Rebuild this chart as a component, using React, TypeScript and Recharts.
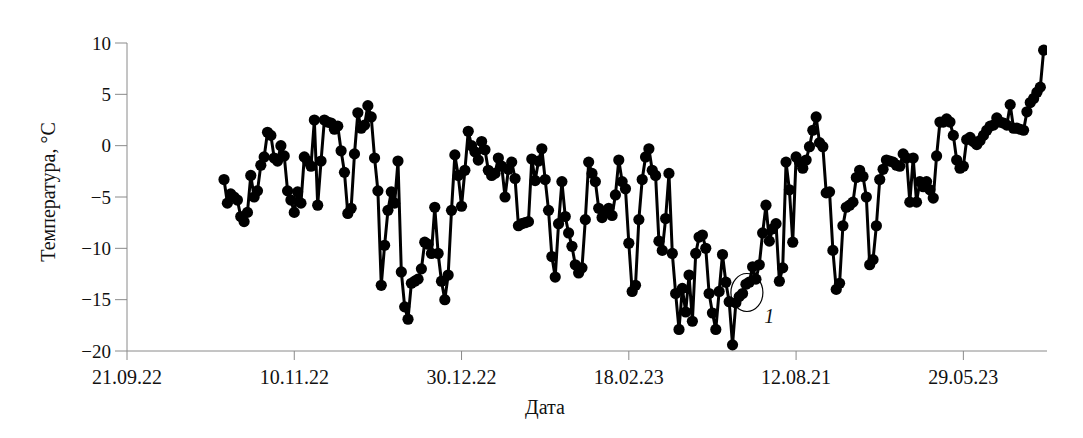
import React from "react";
import { LineChart, Line, XAxis, YAxis, ReferenceDot } from "recharts";

// First day of the series, counted in days from 21.09.22 (the first x tick)
const FIRST_DAY = 29;

// Daily temperatures, °C
const temperatures: number[] = [
  -3.3, -5.6, -4.7, -5.0, -5.3, -6.9, -7.4, -6.5, -2.9, -5.0,
  -4.4, -1.9, -1.1, 1.3, 1.0, -1.2, -1.5, 0.0, -1.0, -4.4,
  -5.3, -6.5, -4.5, -5.6, -1.1, -1.5, -2.0, 2.5, -5.8, -1.5,
  2.5, 2.3, 2.2, 1.6, 1.9, -0.5, -2.6, -6.6, -6.1, -0.8,
  3.2, 1.7, 2.0, 3.9, 2.8, -1.2, -4.4, -13.6, -9.7, -6.3,
  -4.5, -5.6, -1.5, -12.3, -15.7, -16.9, -13.4, -13.2, -13.0, -12.0,
  -9.4, -9.6, -10.5, -6.0, -10.5, -13.2, -15.0, -12.6, -6.3, -0.9,
  -2.9, -5.9, -2.4, 1.4, 0.0, -0.6, -1.4, 0.4, -0.4, -2.4,
  -2.9, -2.7, -1.2, -2.0, -5.0, -2.3, -1.6, -3.2, -7.8, -7.6,
  -7.5, -7.4, -1.3, -3.4, -1.5, -0.3, -3.3, -6.3, -10.8, -12.8,
  -7.6, -3.5, -6.9, -8.5, -9.8, -11.6, -12.4, -11.9, -7.2, -1.6,
  -2.7, -3.5, -6.1, -7.0, -6.5, -6.1, -6.8, -4.8, -1.4, -3.5,
  -4.2, -9.5, -14.2, -13.6, -7.2, -3.3, -1.1, -0.3, -2.4, -2.9,
  -9.3, -10.2, -7.1, -2.7, -10.5, -14.4, -17.9, -13.9, -16.2, -12.6,
  -17.1, -10.5, -8.9, -8.7, -10.0, -14.4, -16.3, -17.9, -14.2, -10.6,
  -13.3, -15.2, -19.4, -15.3, -14.7, -14.4, -13.5, -13.3, -11.8, -13.0,
  -11.6, -8.5, -5.8, -9.3, -8.1, -7.6, -13.2, -11.9, -1.6, -4.3,
  -9.4, -1.1, -1.6, -2.2, -1.4, -0.1, 1.5, 2.8, 0.3, -0.1,
  -4.6, -4.5, -10.2, -14.0, -13.4, -7.8, -6.0, -5.8, -5.5, -3.1,
  -2.4, -3.0, -5.0, -11.6, -11.1, -7.8, -3.3, -2.3, -1.4, -1.5,
  -1.6, -1.9, -2.0, -0.8, -1.2, -5.5, -1.2, -5.5, -3.5, -4.0,
  -3.5, -4.3, -5.1, -1.0, 2.3, 2.3, 2.6, 2.3, 1.0, -1.4,
  -2.2, -2.0, 0.6, 0.8, 0.4, 0.1, 0.5, 1.0, 1.5, 1.9,
  2.0, 2.7, 2.3, 2.2, 2.0, 4.0, 1.7, 1.7, 1.6, 1.5,
  3.3, 4.2, 4.6, 5.2, 5.7, 9.3,
];

// X ticks (days from the first tick) and their labels
const xTicks: number[] = [0, 50, 100, 150, 200, 250];
const xTickLabels: string[] = ["21.09.22", "10.11.22", "30.12.22", "18.02.23", "12.08.21", "29.05.23"];
const xDomain: [number, number] = [0, 275];

const yTicks: number[] = [-20, -15, -10, -5, 0, 5, 10];
const yDomain: [number, number] = [-20, 10];

// Annotation "1": ellipse centre and label position in data units
const ellipseCenter = { day: 185.3, temp: -14.3 };
const annotationLabel = { day: 192, temp: -16.6, text: "1" };

const data = temperatures.map((t, i) => ({ day: FIRST_DAY + i, temp: t }));

const FONT = "'Liberation Serif', 'Times New Roman', serif";
const AXIS_GRAY = "#8a8a8a";

const fmtY = (v: number) => String(v).replace("-", "\u2212");
const fmtX = (v: number) => {
  const idx = xTicks.indexOf(v);
  return idx >= 0 ? xTickLabels[idx] : "";
};

export default function App() {
  return (
    <div style={{ width: 1075, height: 430 }}>
      <LineChart
        width={1075}
        height={430}
        data={data}
        margin={{ top: 35, right: 36, left: 0, bottom: 27 }}
      >
        <XAxis
          dataKey="day"
          type="number"
          domain={xDomain}
          ticks={xTicks}
          tickFormatter={fmtX}
          height={60}
          stroke={AXIS_GRAY}
          tickSize={9}
          tickMargin={10}
          tick={{ fill: "#111", fontSize: 20, fontFamily: FONT }}
          interval={0}
          allowDataOverflow
          label={{
            content: (props: any) => {
              const vb = props.viewBox || {};
              return (
                <text
                  x={vb.x + vb.width / 2 - 42}
                  y={vb.y + 63}
                  textAnchor="middle"
                  fontSize={20}
                  fontFamily={FONT}
                  fill="#111"
                >
                  Дата
                </text>
              );
            },
          }}
        />
        <YAxis
          type="number"
          domain={yDomain}
          ticks={yTicks}
          tickFormatter={fmtY}
          width={119}
          stroke={AXIS_GRAY}
          tickSize={12}
          tickMargin={4}
          interval={0}
          tick={{ fill: "#111", fontSize: 19, fontFamily: FONT }}
          label={{
            content: () => (
              <text
                x={40}
                y={184}
                transform="rotate(-90, 40, 184)"
                textAnchor="middle"
                dominantBaseline="central"
                fontSize={20}
                fontFamily={FONT}
                fill="#111"
              >
                Температура, °C
              </text>
            ),
          }}
        />
        <Line
          type="linear"
          dataKey="temp"
          stroke="#000"
          strokeWidth={3}
          dot={{ r: 5.6, fill: "#000", stroke: "#000", strokeWidth: 0 }}
          isAnimationActive={false}
        />
        <ReferenceDot
          x={ellipseCenter.day}
          y={ellipseCenter.temp}
          r={16}
          shape={(p: any) => (
            <ellipse
              cx={p.cx}
              cy={p.cy}
              rx={16}
              ry={19}
              fill="none"
              stroke="#000"
              strokeWidth={1.2}
            />
          )}
        />
        <ReferenceDot
          x={annotationLabel.day}
          y={annotationLabel.temp}
          r={1}
          shape={(p: any) => (
            <text
              x={p.cx}
              y={p.cy}
              textAnchor="middle"
              dominantBaseline="central"
              fontSize={20}
              fontStyle="italic"
              fontFamily={FONT}
              fill="#111"
            >
              {annotationLabel.text}
            </text>
          )}
        />
      </LineChart>
    </div>
  );
}
